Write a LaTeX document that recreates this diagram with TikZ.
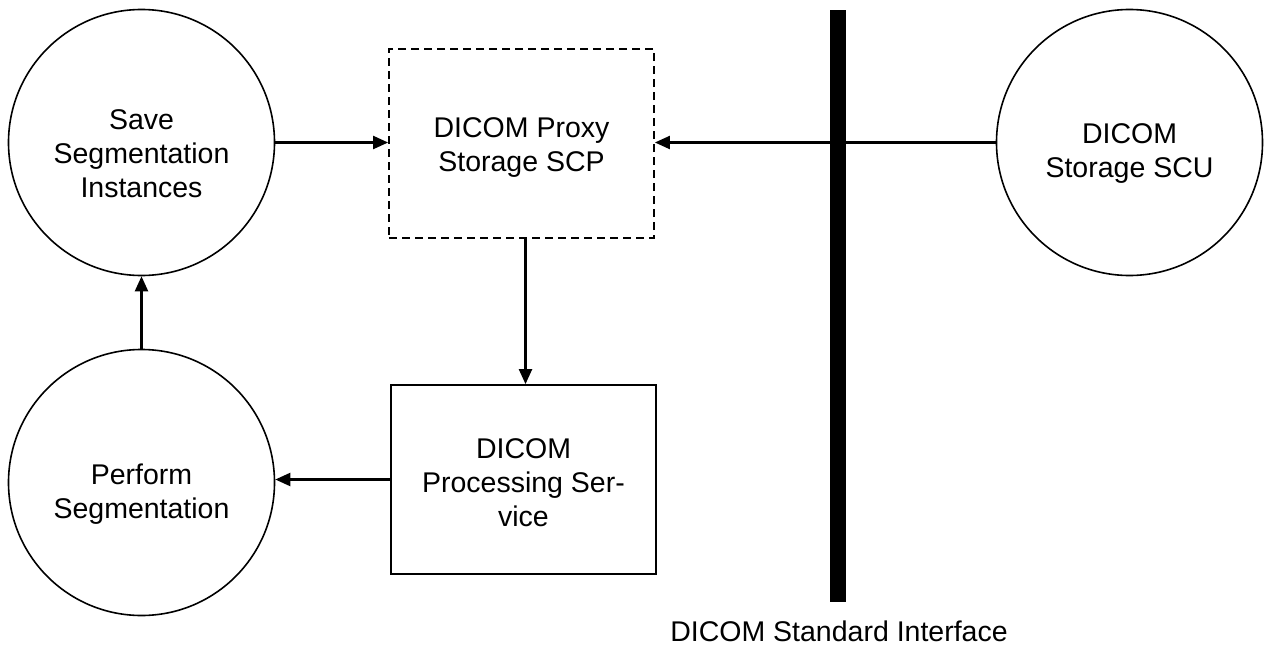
\documentclass[tikz,border=0pt]{standalone}
\usepackage{fontspec}
\setmainfont{Liberation Sans}
\usetikzlibrary{arrows.meta}
\tikzset{
  proc/.style={circle, draw, line width=1.6pt, minimum size=266pt, inner sep=0pt},
  boxnode/.style={rectangle, draw, line width=1.8pt, inner sep=0pt, minimum width=265pt, minimum height=189pt},
  conn/.style={line width=2.2pt, -{Triangle[length=15pt,width=13pt]}},
  lbl/.style={font=\fontsize{28.5}{34}\selectfont, align=center, inner sep=0pt}
}
\begin{document}
\begin{tikzpicture}[x=1pt,y=-1pt]
\useasboundingbox (0,0) rectangle (1264,648);
\node[proc] (save) at (141.5,142.5) {};
\node[lbl] (savet) at (141.5,154) {Save\\Segmentation\\Instances};
\node[proc] (perf) at (141.5,482.5) {};
\node[lbl] (perft) at (141.5,494) {Perform\\Segmentation};
\node[proc] (scu) at (1129.5,142.5) {};
\node[lbl] (scut) at (1129.5,154) {DICOM\\Storage SCU};
\node[boxnode, dashed, dash pattern=on 8pt off 5pt] (proxy) at (521.5,143.5) {};
\node[lbl] (proxyt) at (521.5,147.5) {DICOM Proxy\\Storage SCP};
\node[boxnode] (dps) at (523.5,479.5) {};
\node[lbl] (dpst) at (523.5,482.5) {DICOM\\Processing Ser-\\vice};
\node[rectangle, fill=black, minimum width=16pt, minimum height=592pt, inner sep=0pt] (bar) at (838,306) {};
\node[lbl] (iface) at (839,631) {DICOM Standard Interface};
\draw[conn] (save.east) -- (save.east -| proxy.west);
\draw[conn] (scu.west) -- (scu.west -| proxy.east);
\draw[conn] (perf.north) -- (save.south);
\draw[conn] ([xshift=4pt]proxy.south) -- ([xshift=4pt]proxy.south |- dps.north);
\draw[conn] (dps.west) -- (dps.west -| perf.east);
\end{tikzpicture}
\end{document}
